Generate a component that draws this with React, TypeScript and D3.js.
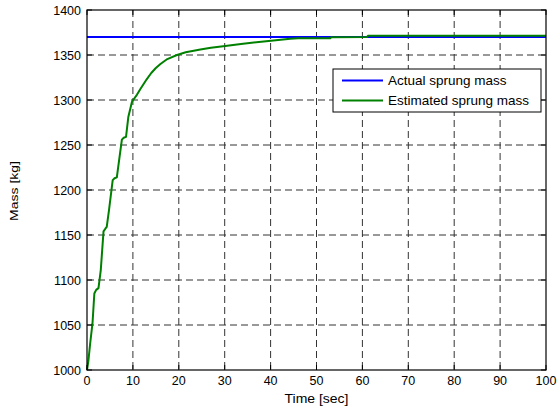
import React from "react";
import * as d3 from "d3";

// Time axis (sec) and estimated sprung mass (kg) samples
const timeSec = [0, 0.3, 0.7, 1.2, 1.6, 2.0, 2.5, 3.0, 3.6, 4.0, 4.3, 4.8, 5.6, 6.0, 6.5, 7.1, 7.6, 8.0, 8.5, 9.0, 9.8, 10.9, 11.6, 13.0, 14.0, 15.0, 16.0, 17.5, 19.6, 21.5, 24.7, 27, 30.1, 34, 38.5, 44.3, 46, 53, 53.2, 61, 61.2, 80, 100];
const estimatedMass = [1000, 1010, 1030, 1052, 1085, 1089, 1091, 1111, 1154, 1157, 1159, 1178, 1211, 1213, 1214, 1237, 1256, 1258, 1259, 1281, 1298, 1306, 1312, 1323, 1330, 1335.5, 1340, 1345.5, 1350, 1353, 1356, 1358, 1360, 1362.5, 1365, 1368, 1368.5, 1368.7, 1369.7, 1369.9, 1371.3, 1371.3, 1371.3];
const actualTime = [0, 100];
const actualMass = [1370, 1370];

const xTicks = [0, 10, 20, 30, 40, 50, 60, 70, 80, 90, 100];
const yTicks = [1000, 1050, 1100, 1150, 1200, 1250, 1300, 1350, 1400];
const legendLabels = ["Actual sprung mass", "Estimated sprung mass"];
const seriesColors = ["#0000ff", "#008000"];

const W = 558;
const H = 411;
const M = { left: 87, top: 10, right: 12, bottom: 41 };
const FONT = "'Liberation Sans', Arial, sans-serif";

export default function App() {
  const iw = W - M.left - M.right;
  const ih = H - M.top - M.bottom;
  const x = d3.scaleLinear().domain([0, 100]).range([0, iw]);
  const y = d3.scaleLinear().domain([1000, 1400]).range([ih, 0]);

  const line = d3
    .line<[number, number]>()
    .x((d) => x(d[0]))
    .y((d) => y(d[1]));

  const actualPts = actualTime.map((t, i) => [t, actualMass[i]] as [number, number]);
  const estPts = timeSec.map((t, i) => [t, estimatedMass[i]] as [number, number]);

  const tickLen = 5;
  const grid = "#333";

  return (
    <div style={{ position: "absolute", left: 0, top: 0 }}>
      <svg width={W} height={H} style={{ display: "block", background: "#fff" }}>
        <rect x={0} y={0} width={W} height={H} fill="#fff" />
        <g transform={`translate(${M.left},${M.top})`}>
          {/* dashed grid */}
          {xTicks.slice(1, -1).map((t) => (
            <line key={"gx" + t} x1={x(t)} x2={x(t)} y1={0} y2={ih} stroke={grid} strokeWidth={1} strokeDasharray="7,4" />
          ))}
          {yTicks.slice(1, -1).map((v) => (
            <line key={"gy" + v} x1={0} x2={iw} y1={y(v)} y2={y(v)} stroke={grid} strokeWidth={1} strokeDasharray="7,4" />
          ))}

          {/* series */}
          <path d={line(actualPts) || ""} fill="none" stroke={seriesColors[0]} strokeWidth={2} />
          <path d={line(estPts) || ""} fill="none" stroke={seriesColors[1]} strokeWidth={2} strokeLinejoin="round" />

          {/* axes box and inward ticks */}
          <rect x={0} y={0} width={iw} height={ih} fill="none" stroke="#000" strokeWidth={1.2} />
          {xTicks.map((t) => (
            <g key={"tx" + t}>
              <line x1={x(t)} x2={x(t)} y1={ih} y2={ih - tickLen} stroke="#000" />
              <line x1={x(t)} x2={x(t)} y1={0} y2={tickLen} stroke="#000" />
              <text x={x(t)} y={ih + 15} textAnchor="middle" fontFamily={FONT} fontSize={12.5} fill="#000">
                {t}
              </text>
            </g>
          ))}
          {yTicks.map((v) => (
            <g key={"ty" + v}>
              <line x1={0} x2={tickLen} y1={y(v)} y2={y(v)} stroke="#000" />
              <line x1={iw} x2={iw - tickLen} y1={y(v)} y2={y(v)} stroke="#000" />
              <text x={-6} y={y(v)} dy="0.36em" textAnchor="end" fontFamily={FONT} fontSize={12.5} fill="#000">
                {v}
              </text>
            </g>
          ))}

          {/* axis titles */}
          <text x={iw / 2} y={ih + 33} textAnchor="middle" fontFamily={FONT} fontSize={12.5} fill="#000" textLength={64} lengthAdjust="spacingAndGlyphs">
            Time [sec]
          </text>
          <text
            transform={`translate(${14 - M.left},${ih / 2 + 1}) rotate(-90)`}
            textAnchor="middle"
            dy="0.36em"
            fontFamily={FONT}
            fontSize={11.5}
            fill="#000"
            textLength={60}
            lengthAdjust="spacingAndGlyphs"
          >
            Mass [kg]
          </text>

          {/* legend */}
          <g transform={`translate(${333 - M.left},${69 - M.top})`}>
            <rect x={0} y={0} width={208} height={43} fill="#fff" stroke="#000" strokeWidth={1} />
            {legendLabels.map((lab, i) => (
              <g key={lab} transform={`translate(0,${11.5 + i * 20})`}>
                <line x1={9} x2={50} y1={0} y2={0} stroke={seriesColors[i]} strokeWidth={2} />
                <text x={55} y={0} dy="0.36em" fontFamily={FONT} fontSize={13.5} fill="#000">
                  {lab}
                </text>
              </g>
            ))}
          </g>
        </g>
      </svg>
    </div>
  );
}
